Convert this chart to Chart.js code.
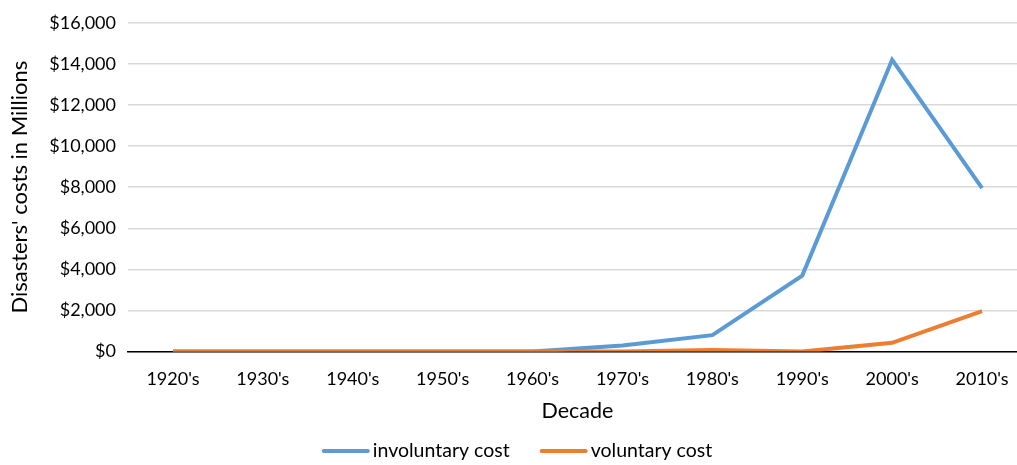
<!DOCTYPE html>
<html>
<head>
<meta charset="utf-8">
<script src="https://cdn.jsdelivr.net/npm/chart.js@4/dist/chart.umd.min.js"></script>
<style>
  html, body { margin: 0; padding: 0; background: #fff; overflow: hidden; }
  #wrap { width: 1040px; height: 465px; }
</style>
</head>
<body>
<div id="wrap"><canvas id="chart" width="1040" height="465"></canvas></div>
<script>
// decades and costs (millions of dollars)
const decades = ["1920's", "1930's", "1940's", "1950's", "1960's", "1970's", "1980's", "1990's", "2000's", "2010's"];
const involuntaryCost = [0, 0, 0, 0, 0, 300, 800, 3700, 14200, 7950];
const voluntaryCost = [0, 0, 0, 0, 0, 0, 80, 0, 430, 1970];
const yTicks = [0, 2000, 4000, 6000, 8000, 10000, 12000, 14000, 16000];

const font = "Lato, 'Open Sans', sans-serif";

// excel-style legend: short thick line right next to the text
const lineLegend = {
  id: 'lineLegend',
  afterDraw(chart) {
    const c = chart.ctx;
    const y = 451, lineLen = 48, textGap = 3, itemGap = 30;
    c.save();
    c.font = '19.5px ' + font;
    c.textBaseline = 'middle';
    const items = chart.data.datasets.map(ds => ({ ds, w: lineLen + textGap + c.measureText(ds.label).width }));
    const total = items.reduce((s, it) => s + it.w, 0) + itemGap * (items.length - 1);
    let x = 517 - total / 2;
    items.forEach(it => {
      c.strokeStyle = it.ds.borderColor;
      c.lineWidth = 4;
      c.lineCap = 'round';
      c.beginPath();
      c.moveTo(x + 2, y);
      c.lineTo(x + lineLen - 2, y);
      c.stroke();
      c.fillStyle = '#000';
      c.fillText(it.ds.label, x + lineLen + textGap, y);
      x += it.w + itemGap;
    });
    c.restore();
  }
};

const ctx = document.getElementById('chart').getContext('2d');
new Chart(ctx, {
  type: 'line',
  data: {
    labels: decades,
    datasets: [{
      label: 'involuntary cost',
      data: involuntaryCost,
      borderColor: '#5B9BD5',
      backgroundColor: '#5B9BD5',
      borderWidth: 4,
      pointRadius: 0,
      tension: 0,
      order: 1
    }, {
      label: 'voluntary cost',
      data: voluntaryCost,
      borderColor: '#ED7D31',
      backgroundColor: '#ED7D31',
      borderWidth: 4,
      pointRadius: 0,
      tension: 0,
      order: 0
    }]
  },
  plugins: [lineLegend],
  options: {
    responsive: false,
    animation: false,
    layout: { padding: { top: 10, left: 0, right: 13, bottom: 41 } },
    plugins: {
      tooltip: { enabled: false },
      legend: { display: false }
    },
    scales: {
      x: {
        offset: true,
        grid: { display: false, drawTicks: false },
        border: { color: '#000', width: 1.5 },
        ticks: { color: '#000', font: { family: font, size: 18 }, padding: 17, maxRotation: 0 },
        title: { display: true, text: 'Decade', color: '#000', font: { family: font, size: 21.5 }, padding: { top: -9, bottom: 0 } }
      },
      y: {
        min: 0,
        max: 16000,
        afterFit: s => { s.width = 128; },
        afterBuildTicks: s => { s.ticks = yTicks.map(v => ({ value: v })); },
        grid: { color: '#d9d9d9', lineWidth: 1.5, drawTicks: false },
        border: { display: false },
        ticks: {
          color: '#000',
          font: { family: font, size: 18 },
          padding: 12,
          callback: v => '$' + v.toLocaleString('en-US')
        },
        title: { display: true, text: "Disasters' costs in Millions", color: '#000', font: { family: font, size: 22 }, padding: { top: 7, bottom: 4 } }
      }
    }
  }
});
</script>
</body>
</html>
